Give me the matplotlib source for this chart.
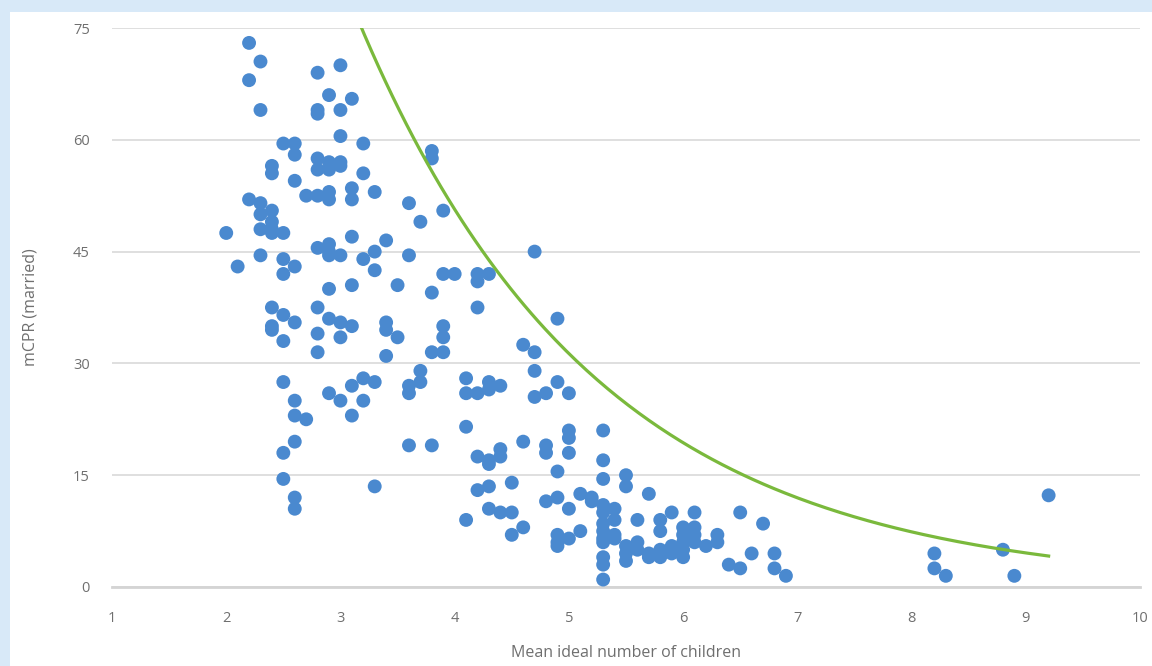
import numpy as np
import matplotlib.pyplot as plt
from matplotlib.patches import Rectangle

# mean ideal number of children (x) and mCPR among married women (y)
ideal_children = [
    2.0, 2.1,
    2.2, 2.2, 2.2,
    2.3, 2.3, 2.3, 2.3, 2.3, 2.3,
    2.4, 2.4, 2.4, 2.4, 2.4, 2.4, 2.4, 2.4, 2.4,
    2.5, 2.5, 2.5, 2.5, 2.5, 2.5, 2.5, 2.5, 2.5,
    2.6, 2.6, 2.6, 2.6, 2.6, 2.6, 2.6, 2.6, 2.6, 2.6,
    2.7, 2.7,
    2.8, 2.8, 2.8, 2.8, 2.8, 2.8, 2.8, 2.8, 2.8, 2.8,
    2.9, 2.9, 2.9, 2.9, 2.9, 2.9, 2.9, 2.9, 2.9, 2.9, 2.9,
    3.0, 3.0, 3.0, 3.0, 3.0, 3.0, 3.0, 3.0, 3.0,
    3.1, 3.1, 3.1, 3.1, 3.1, 3.1, 3.1, 3.1,
    3.2, 3.2, 3.2, 3.2, 3.2,
    3.3, 3.3, 3.3, 3.3, 3.3,
    3.4, 3.4, 3.4, 3.4,
    3.5, 3.5,
    3.6, 3.6, 3.6, 3.6, 3.6,
    3.7, 3.7, 3.7,
    3.8, 3.8, 3.8, 3.8, 3.8,
    3.9, 3.9, 3.9, 3.9, 3.9,
    4.0,
    4.1, 4.1, 4.1, 4.1,
    4.2, 4.2, 4.2, 4.2, 4.2, 4.2,
    4.3, 4.3, 4.3, 4.3, 4.3, 4.3, 4.3,
    4.4, 4.4, 4.4, 4.4,
    4.5, 4.5, 4.5,
    4.6, 4.6, 4.6,
    4.7, 4.7, 4.7, 4.7,
    4.8, 4.8, 4.8, 4.8,
    4.9, 4.9, 4.9, 4.9, 4.9, 4.9, 4.9,
    5.0, 5.0, 5.0, 5.0, 5.0, 5.0,
    5.1, 5.1,
    5.2, 5.2,
    5.3, 5.3, 5.3, 5.3, 5.3, 5.3, 5.3, 5.3, 5.3, 5.3, 5.3, 5.3,
    5.4, 5.4, 5.4, 5.4,
    5.5, 5.5, 5.5, 5.5, 5.5,
    5.6, 5.6, 5.6,
    5.7, 5.7, 5.7,
    5.8, 5.8, 5.8, 5.8,
    5.9, 5.9, 5.9,
    6.0, 6.0, 6.0, 6.0, 6.0,
    6.1, 6.1, 6.1, 6.1,
    6.2,
    6.3, 6.3,
    6.4,
    6.5, 6.5,
    6.6,
    6.7,
    6.8, 6.8,
    6.9,
    8.2, 8.2, 8.3,
    8.8, 8.9,
    9.2,
]

mcpr_married = [
    47.5, 43,
    73, 68, 52,
    70.5, 64, 51.5, 50, 48, 44.5,
    50.5, 49, 48, 47.5, 56.5, 55.5, 37.5, 35, 34.5,
    59.5, 47.5, 44, 42, 36.5, 33, 27.5, 18, 14.5,
    59.5, 58, 54.5, 43, 35.5, 25, 23, 19.5, 12, 10.5,
    52.5, 22.5,
    69, 64, 63.5, 57.5, 56, 52.5, 45.5, 37.5, 34, 31.5,
    66, 57, 56, 53, 52, 46, 45, 44.5, 40, 36, 26,
    70, 64, 60.5, 57, 56.5, 44.5, 35.5, 33.5, 25,
    65.5, 53.5, 52, 47, 40.5, 35, 27, 23,
    59.5, 55.5, 44, 28, 25,
    53, 45, 42.5, 27.5, 13.5,
    46.5, 35.5, 34.5, 31,
    40.5, 33.5,
    51.5, 44.5, 27, 26, 19,
    49, 29, 27.5,
    58.5, 57.5, 39.5, 31.5, 19,
    50.5, 42, 35, 33.5, 31.5,
    42,
    28, 26, 21.5, 9,
    42, 41, 37.5, 26, 17.5, 13,
    42, 27.5, 26.5, 17, 16.5, 13.5, 10.5,
    27, 18.5, 17.5, 10,
    14, 10, 7,
    32.5, 19.5, 8,
    45, 31.5, 29, 25.5,
    26, 19, 18, 11.5,
    36, 27.5, 15.5, 12, 7, 6, 5.5,
    26, 21, 20, 18, 10.5, 6.5,
    12.5, 7.5,
    12, 11.5,
    21, 17, 14.5, 11, 10, 8.5, 7.5, 6.5, 6, 4, 3, 1,
    10.5, 9, 7, 6.5,
    15, 13.5, 5.5, 4.5, 3.5,
    9, 6, 5,
    12.5, 4.5, 4,
    9, 7.5, 5, 4,
    10, 5.5, 4.5,
    8, 7, 6, 5, 4,
    10, 8, 7, 6,
    5.5,
    7, 6,
    3,
    10, 2.5,
    4.5,
    8.5,
    4.5, 2.5,
    1.5,
    4.5, 2.5, 1.5,
    5, 1.5,
    12.3,
]

# exponential curve y = a * exp(b * x), drawn over the span seen in the chart
curve_a = 347.0
curve_b = -0.481
curve_x_start = 3.15
curve_x_end = 9.2

x_ticks = [1, 2, 3, 4, 5, 6, 7, 8, 9, 10]
y_ticks = [0, 15, 30, 45, 60, 75]

plt.rcParams['font.family'] = ['Open Sans', 'DejaVu Sans']

fig = plt.figure(figsize=(11.52, 6.66), dpi=100)
fig.patch.set_facecolor('#d8e9f8')
# white chart panel inside the blue frame
panel = Rectangle((10 / 1152, 0), 1, 1 - 12 / 666, transform=fig.transFigure,
                  facecolor='white', edgecolor='none', zorder=-10)
fig.add_artist(panel)

ax = fig.add_axes([112 / 1152, 1 - 587 / 666, 1028 / 1152, 559 / 666])
ax.set_facecolor('none')

ax.scatter(ideal_children, mcpr_married, s=100, color='#4a89cf', edgecolors='none', zorder=3)

curve_x = np.linspace(curve_x_start, curve_x_end, 200)
curve_y = curve_a * np.exp(curve_b * curve_x)
ax.plot(curve_x, curve_y, color='#7ab93c', linewidth=2.3, zorder=4)

ax.set_xlim(1, 10)
ax.set_ylim(0, 75)
ax.set_xticks(x_ticks)
ax.set_yticks(y_ticks)
ax.yaxis.grid(True, color='#d9d9d9', linewidth=1.2)
ax.set_axisbelow(True)

for side in ['left', 'right', 'top']:
    ax.spines[side].set_visible(False)
ax.spines['bottom'].set_color('#d4d4d4')
ax.spines['bottom'].set_linewidth(2)
ax.spines['bottom'].set_zorder(1)

ax.tick_params(axis='both', length=0, labelsize=10.5, labelcolor='#6f6f6f')
ax.tick_params(axis='x', pad=17)
ax.tick_params(axis='y', pad=16)

ax.set_xlabel("Mean ideal number of children", fontsize=11.5, color='#6f6f6f', labelpad=14)
ax.set_ylabel("mCPR (married)", fontsize=11.5, color='#6f6f6f', labelpad=25)

fig.savefig("out.png", dpi=100, facecolor=fig.get_facecolor())
plt.close(fig)
